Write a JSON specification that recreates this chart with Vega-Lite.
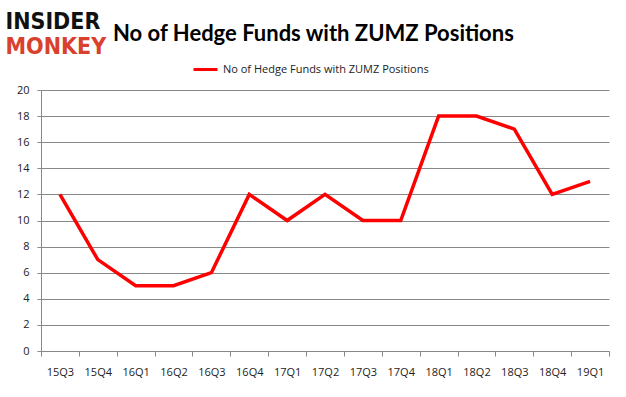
{
  "$schema": "https://vega.github.io/schema/vega-lite/v6.json",
  "autosize": {"type": "none"},
  "width": 568,
  "height": 261,
  "padding": {"left": 41, "top": 90, "right": 17, "bottom": 46},
  "background": "white",
  "title": {
    "text": "No of Hedge Funds with ZUMZ Positions",
    "anchor": "start",
    "frame": "group",
    "dx": 72,
    "offset": -53,
    "baseline": "alphabetic",
    "font": "Lato",
    "fontSize": 22,
    "fontWeight": "bold",
    "color": "black"
  },
  "data": {
    "values": [
      {"q": "15Q3", "v": 12, "s": "No of Hedge Funds with ZUMZ  Positions"},
      {"q": "15Q4", "v": 7, "s": "No of Hedge Funds with ZUMZ  Positions"},
      {"q": "16Q1", "v": 5, "s": "No of Hedge Funds with ZUMZ  Positions"},
      {"q": "16Q2", "v": 5, "s": "No of Hedge Funds with ZUMZ  Positions"},
      {"q": "16Q3", "v": 6, "s": "No of Hedge Funds with ZUMZ  Positions"},
      {"q": "16Q4", "v": 12, "s": "No of Hedge Funds with ZUMZ  Positions"},
      {"q": "17Q1", "v": 10, "s": "No of Hedge Funds with ZUMZ  Positions"},
      {"q": "17Q2", "v": 12, "s": "No of Hedge Funds with ZUMZ  Positions"},
      {"q": "17Q3", "v": 10, "s": "No of Hedge Funds with ZUMZ  Positions"},
      {"q": "17Q4", "v": 10, "s": "No of Hedge Funds with ZUMZ  Positions"},
      {"q": "18Q1", "v": 18, "s": "No of Hedge Funds with ZUMZ  Positions"},
      {"q": "18Q2", "v": 18, "s": "No of Hedge Funds with ZUMZ  Positions"},
      {"q": "18Q3", "v": 17, "s": "No of Hedge Funds with ZUMZ  Positions"},
      {"q": "18Q4", "v": 12, "s": "No of Hedge Funds with ZUMZ  Positions"},
      {"q": "19Q1", "v": 13, "s": "No of Hedge Funds with ZUMZ  Positions"}
    ]
  },
  "mark": {"type": "line", "strokeWidth": 3.5, "strokeJoin": "miter"},
  "encoding": {
    "x": {
      "field": "q",
      "type": "ordinal",
      "sort": null,
      "scale": {"type": "band", "paddingInner": 0, "paddingOuter": 0},
      "axis": {
        "title": "MONKEY",
        "titleColor": "#d9412e",
        "titleFont": "DejaVu Sans Condensed",
        "titleFontWeight": "bold",
        "titleFontSize": 23,
        "titleAlign": "left",
        "titleBaseline": "alphabetic",
        "titleAngle": 0,
        "titleX": -36,
        "titleY": -298,
        "labelAngle": 0,
        "labelPadding": 10,
        "tickBand": "extent",
        "tickSize": 5,
        "tickColor": "#888888",
        "domainColor": "#888888",
        "labelFont": "Open Sans",
        "labelFontSize": 11,
        "labelColor": "#222222",
        "grid": false
      }
    },
    "y": {
      "field": "v",
      "type": "quantitative",
      "scale": {"domain": [0, 20]},
      "axis": {
        "title": "INSIDER",
        "titleColor": "#111111",
        "titleFont": "DejaVu Sans Condensed",
        "titleFontWeight": "bold",
        "titleFontSize": 23,
        "titleAlign": "left",
        "titleBaseline": "alphabetic",
        "titleAngle": 0,
        "titleX": -36,
        "titleY": -62,
        "values": [0, 2, 4, 6, 8, 10, 12, 14, 16, 18, 20],
        "grid": true,
        "gridColor": "#888888",
        "gridWidth": 1,
        "tickSize": 4,
        "tickColor": "#888888",
        "domainColor": "#888888",
        "labelPadding": 8,
        "labelFont": "Open Sans",
        "labelFontSize": 11,
        "labelColor": "#222222"
      }
    },
    "color": {
      "field": "s",
      "type": "nominal",
      "scale": {"range": ["#ff0000"]},
      "legend": {
        "title": null,
        "orient": "none",
        "legendX": 151,
        "legendY": -34,
        "padding": 0,
        "symbolType": "stroke",
        "symbolStrokeWidth": 3,
        "symbolSize": 576,
        "labelOffset": 4,
        "labelLimit": 400,
        "labelFont": "Open Sans",
        "labelFontSize": 11,
        "labelColor": "#222222"
      }
    }
  },
  "config": {"view": {"stroke": null}}
}
